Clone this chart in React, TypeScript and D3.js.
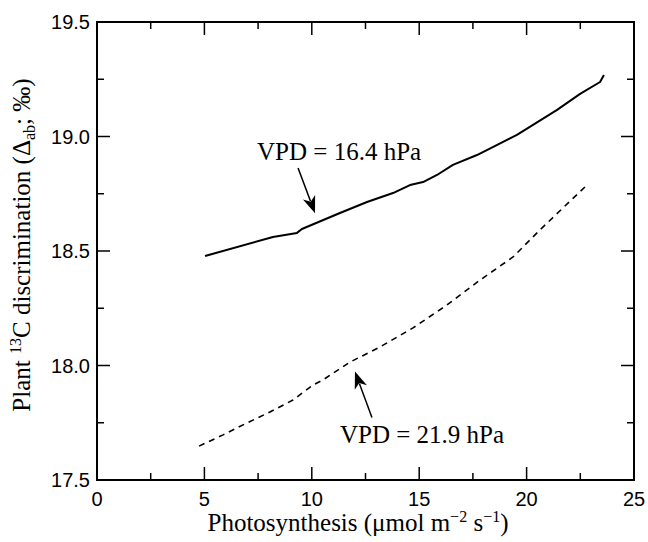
import React, { useEffect, useRef } from 'react';
import * as d3 from 'd3';

const W = 648;
const H = 542;
const M = { left: 97, right: 14, top: 22, bottom: 62 };

// VPD = 16.4 hPa (solid line)
const lowX = [5.03, 8.19, 9.31, 9.54, 11.31, 12.57, 13.78, 14.57, 15.18, 15.83, 16.57, 17.69, 19.55, 21.42, 22.49, 23.42, 23.6];
const lowY = [18.478, 18.561, 18.579, 18.596, 18.666, 18.714, 18.753, 18.788, 18.801, 18.832, 18.876, 18.919, 19.007, 19.116, 19.186, 19.238, 19.269];

// VPD = 21.9 hPa (dashed line)
const highX = [4.75, 5.87, 6.98, 8.05, 9.12, 10.06, 10.52, 11.78, 13.18, 14.71, 16.29, 17.83, 19.37, 20.62, 22.81];
const highY = [17.648, 17.697, 17.749, 17.797, 17.849, 17.915, 17.937, 18.015, 18.081, 18.164, 18.264, 18.373, 18.474, 18.592, 18.788];

const xMajor = [0, 5, 10, 15, 20, 25];
const xMinor = [2.5, 7.5, 12.5, 17.5, 22.5];
const yMajor = [17.5, 18.0, 18.5, 19.0, 19.5];
const yMinor = [17.75, 18.25, 18.75, 19.25];

// annotations: label position, arrow start, arrow tip (data units)
const notes = [
  { text: 'VPD = 16.4 hPa', lx: 7.45, ly: 18.897, ax: 9.36, ay: 18.862, tx: 10.15, ty: 18.665 },
  { text: 'VPD = 21.9 hPa', lx: 11.31, ly: 17.662, ax: 12.8, ay: 17.773, tx: 12.01, ty: 17.974 },
];

const SANS = '"Liberation Sans", Arial, Helvetica, sans-serif';
const SERIF = '"Liberation Serif", "Times New Roman", serif';

export default function App() {
  const ref = useRef<SVGSVGElement>(null);

  useEffect(() => {
    const svg = d3.select(ref.current);
    svg.selectAll('*').remove();

    const x = d3.scaleLinear().domain([0, 25]).range([M.left, W - M.right]);
    const y = d3.scaleLinear().domain([17.5, 19.5]).range([H - M.bottom, M.top]);

    const g = svg.append('g');

    // ticks, all pointing inward
    const tk = g.append('g').attr('stroke', '#000').attr('stroke-width', 1.5);
    const xt = [...xMajor.map(v => [v, 13]), ...xMinor.map(v => [v, 7])];
    xt.forEach(([v, len]) => {
      tk.append('line').attr('x1', x(v)).attr('x2', x(v)).attr('y1', y(17.5)).attr('y2', y(17.5) - len);
      tk.append('line').attr('x1', x(v)).attr('x2', x(v)).attr('y1', y(19.5)).attr('y2', y(19.5) + len);
    });
    const yt = [...yMajor.map(v => [v, 13]), ...yMinor.map(v => [v, 7])];
    yt.forEach(([v, len]) => {
      tk.append('line').attr('x1', x(0)).attr('x2', x(0) + len).attr('y1', y(v)).attr('y2', y(v));
      tk.append('line').attr('x1', x(25)).attr('x2', x(25) - len).attr('y1', y(v)).attr('y2', y(v));
    });

    // frame
    g.append('rect')
      .attr('x', x(0)).attr('y', y(19.5))
      .attr('width', x(25) - x(0)).attr('height', y(17.5) - y(19.5))
      .attr('fill', 'none').attr('stroke', '#000').attr('stroke-width', 2);

    // tick labels
    g.selectAll('.xl').data(xMajor).enter().append('text')
      .attr('x', d => x(d)).attr('y', y(17.5) + 26)
      .attr('text-anchor', 'middle')
      .style('font-family', SANS).style('font-size', '20px')
      .text(d => d3.format('d')(d));

    g.selectAll('.yl').data(yMajor).enter().append('text')
      .attr('x', x(0) - 7).attr('y', d => y(d)).attr('dy', '0.36em')
      .attr('text-anchor', 'end')
      .style('font-family', SANS).style('font-size', '20px')
      .text(d => d3.format('.1f')(d));

    // lines
    const mk = (xs: number[], ys: number[]) =>
      d3.line<[number, number]>().x(d => x(d[0])).y(d => y(d[1]))(xs.map((v, i) => [v, ys[i]]));

    g.append('path').attr('d', mk(lowX, lowY))
      .attr('fill', 'none').attr('stroke', '#000').attr('stroke-width', 2)
      .attr('stroke-linejoin', 'round');

    g.append('path').attr('d', mk(highX, highY))
      .attr('fill', 'none').attr('stroke', '#000').attr('stroke-width', 1.6)
      .attr('stroke-dasharray', '6,5');

    // annotations
    notes.forEach(n => {
      g.append('text')
        .attr('x', x(n.lx)).attr('y', y(n.ly))
        .style('font-family', SERIF).style('font-size', '25px')
        .text(n.text);
      const x1 = x(n.ax), y1 = y(n.ay), x2 = x(n.tx), y2 = y(n.ty);
      const ang = Math.atan2(y2 - y1, x2 - x1);
      const L = 17, w = 6.5;
      const bx = x2 - Math.cos(ang) * L * 0.75, by = y2 - Math.sin(ang) * L * 0.75;
      g.append('line').attr('x1', x1).attr('y1', y1).attr('x2', bx).attr('y2', by)
        .attr('stroke', '#000').attr('stroke-width', 1.5);
      const pt = (px: number, py: number) => {
        const c = Math.cos(ang), s = Math.sin(ang);
        return [x2 + px * c - py * s, y2 + px * s + py * c];
      };
      const p = [pt(0, 0), pt(-L, w), pt(-L * 0.72, 0), pt(-L, -w)];
      g.append('path').attr('d', 'M' + p.map(q => q.join(',')).join('L') + 'Z').attr('fill', '#000');
    });

    // axis titles
    const xt2 = g.append('text')
      .attr('x', 358).attr('y', 531)
      .attr('text-anchor', 'middle')
      .style('font-family', SERIF).style('font-size', '25px');
    xt2.append('tspan').text('Photosynthesis (\u03bcmol m');
    xt2.append('tspan').attr('dy', -9).style('font-size', '16px').text('\u22122');
    xt2.append('tspan').attr('dy', 9).text(' s');
    xt2.append('tspan').attr('dy', -9).style('font-size', '16px').text('\u22121');
    xt2.append('tspan').attr('dy', 9).text(')');

    const yt2 = g.append('text')
      .attr('transform', `translate(30,245) rotate(-90)`)
      .attr('text-anchor', 'middle')
      .style('font-family', SERIF).style('font-size', '25px');
    yt2.append('tspan').text('Plant ');
    yt2.append('tspan').attr('dy', -9).style('font-size', '16px').text('13');
    yt2.append('tspan').attr('dy', 9).text('C discrimination (\u0394');
    yt2.append('tspan').attr('dy', 5).style('font-size', '16px').text('ab');
    yt2.append('tspan').attr('dy', -5).text('; \u2030)');
  }, []);

  return (
    <div style={{ position: 'absolute', left: 0, top: 0, background: '#fff' }}>
      <svg ref={ref} width={W} height={H} />
    </div>
  );
}
